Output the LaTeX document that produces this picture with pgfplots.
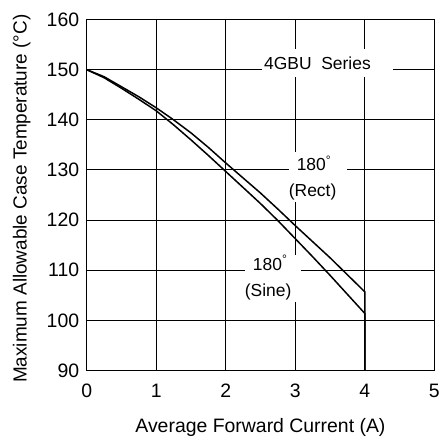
\documentclass[border=0pt]{standalone}
\usepackage{fontspec}
\setmainfont{Liberation Sans}
\usepackage{pgfplots}
\pgfplotsset{compat=1.18}
\begin{document}
\begin{tikzpicture}
\begin{axis}[
  scale only axis,
  width=349pt, height=352.4pt,
  xmin=0, xmax=5, ymin=90, ymax=160,
  xtick={0,1,2,3,4,5}, ytick={90,100,...,160},
  grid=major,
  major grid style={black, line width=0.9pt},
  axis line style={black, line width=0.9pt},
  major tick length=0pt,
  /pgf/number format/assume math mode=true,
  ticklabel style={font=\fontsize{19.5}{22}\selectfont},
  xticklabel style={yshift=-10pt},
  yticklabel style={xshift=-4pt},
  xlabel={Average Forward Current (A)},
  ylabel={Maximum Allowable Case Temperature (°C)},
  xlabel style={font=\fontsize{19.5}{22}\selectfont, at={(axis description cs:0.5,0)}, anchor=base, yshift=-62pt},
  ylabel style={font=\fontsize{19}{22}\selectfont, at={(axis description cs:-0.1728,0.4895)}, anchor=base},
  clip=false,
]
\addplot[black, line width=1.5pt] coordinates {
 (0,150) (0.25,148.6) (0.5,146.6) (0.75,144.6) (1,142.4) (1.25,140.0) (1.5,137.4) (1.75,134.5) (2,131.4) (2.25,128.4) (2.5,125.4) (2.75,122.2) (3,118.9) (3.25,115.7) (3.5,112.5) (3.75,109.1) (4,105.7) (4,90)
};
\addplot[black, line width=1.5pt] coordinates {
 (0,150) (0.25,148.4) (0.5,146.3) (0.75,144.1) (1,141.8) (1.25,139.0) (1.5,136.0) (1.75,132.9) (2,129.7) (2.25,126.5) (2.5,123.3) (2.75,119.9) (3,116.3) (3.25,112.7) (3.5,109.0) (3.75,105.2) (4,101.4) (4,90)
};
\fill[white] (axis cs:2.52,148.5) rectangle (axis cs:4.41,154.1);
\fill[white] (axis cs:2.91,123.7) rectangle (axis cs:3.75,133.6);
\fill[white] (axis cs:2.28,103.6) rectangle (axis cs:3.09,113.1);
\node[anchor=base, inner sep=0pt, font=\fontsize{17.5}{20}\selectfont] at (axis cs:3.32,150) {4GBU\ \ Series};
\node[anchor=base, inner sep=0pt, font=\fontsize{17.5}{20}\selectfont] at (axis cs:3.27,129.8) {180\textsuperscript{°}};
\node[anchor=base, inner sep=0pt, font=\fontsize{17.5}{20}\selectfont] at (axis cs:3.25,124.8) {(Rect)};
\node[anchor=base, inner sep=0pt, font=\fontsize{17.5}{20}\selectfont] at (axis cs:2.64,110.0) {180\textsuperscript{°}};
\node[anchor=base, inner sep=0pt, font=\fontsize{17.5}{20}\selectfont] at (axis cs:2.61,104.8) {(Sine)};
\coordinate (O) at (rel axis cs:0,0);
\coordinate (T) at (rel axis cs:1,1);
\end{axis}
\path ([xshift=-87pt,yshift=-69pt]O) rectangle ([xshift=7pt,yshift=19.6pt]T);
\end{tikzpicture}
\end{document}
